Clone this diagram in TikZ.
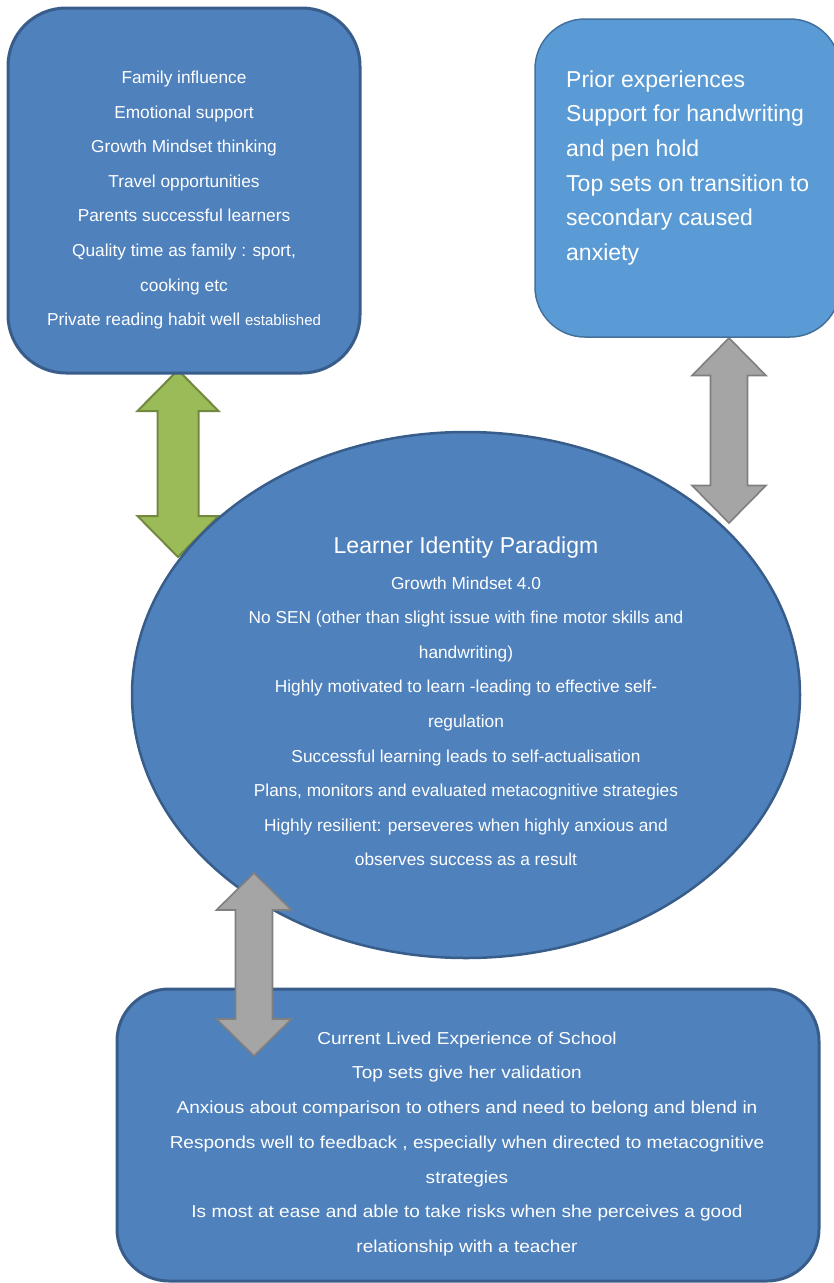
\documentclass[tikz,border=0pt]{standalone}
\usepackage{fontspec}
\setmainfont{Liberation Sans}
\newfontfamily\widesans[FakeStretch=1.1]{Liberation Sans}
\usetikzlibrary{calc,shapes.geometric}

\definecolor{boxblue}{HTML}{4F81BD}
\definecolor{boxedge}{HTML}{385D8A}
\definecolor{lightblue}{HTML}{5B9BD5}
\definecolor{lightedge}{HTML}{41719C}
\definecolor{arrowgreen}{HTML}{9BBB59}
\definecolor{greenedge}{HTML}{71893F}
\definecolor{arrowgrey}{HTML}{A5A5A5}
\definecolor{greyedge}{HTML}{7F7F7F}

% block double arrow between two named tips: style, top tip, bottom tip,
% half shaft width, half head width, head length
\newcommand\blockarrow[6]{%
  \draw[#1] (#2) -- ([shift={(#5,#6)}]#2) -- ([shift={(#4,#6)}]#2)
    -- ([shift={(#4,-#6)}]#3) -- ([shift={(#5,-#6)}]#3) -- (#3)
    -- ([shift={(-#5,-#6)}]#3) -- ([shift={(-#4,-#6)}]#3)
    -- ([shift={(-#4,#6)}]#2) -- ([shift={(-#5,#6)}]#2) -- cycle;}

\tikzset{
  darkbox/.style={rectangle, rounded corners=58pt, fill=boxblue, draw=boxedge,
    line width=3pt, inner sep=0pt},
  lightbox/.style={rectangle, rounded corners=50pt, fill=lightblue, draw=lightedge,
    line width=1.5pt, inner sep=0pt},
  bubble/.style={ellipse, fill=boxblue, draw=boxedge, line width=2.5pt, inner sep=0pt},
  greenarrow/.style={fill=arrowgreen, draw=greenedge, line width=2pt, line join=miter},
  greyarrow/.style={fill=arrowgrey, draw=greyedge, line width=1.6pt, line join=miter},
  bodytext/.style={text=white, inner sep=0pt, font=\fontsize{17.3}{34.6}\selectfont},
}

\begin{document}
\begin{tikzpicture}[x=1pt, y=-1pt]
\useasboundingbox (0,0) rectangle (834,1283);

% tips of the block arrows
\coordinate (famlow) at (178,370);
\coordinate (idleft) at (178,557);
\coordinate (priorlow) at (729,338);
\coordinate (idright) at (729,523);
\coordinate (idlow) at (254,873);
\coordinate (schooltop) at (254,1056);

\blockarrow{greenarrow}{famlow}{idleft}{20.5}{40.5}{41}
\blockarrow{greyarrow}{priorlow}{idright}{18.5}{37}{37.5}

% central learner identity ellipse
\node[bubble, minimum width=668pt, minimum height=526pt] (identity) at (466,695) {};
\node[bodytext, align=center, anchor=north] (identitytext) at (466,536.3)
  {{\fontsize{23}{34.6}\selectfont Learner Identity Paradigm}\\[1.3pt]
   Growth Mindset 4.0\\
   No SEN (other than slight issue with fine motor skills and\\
   handwriting)\\
   Highly motivated to learn -leading to effective self-\\
   regulation\\
   Successful learning leads to self-actualisation\\
   Plans, monitors and evaluated metacognitive strategies\\
   Highly resilient: perseveres when highly anxious and\\
   observes success as a result};

% family box
\node[darkbox, minimum width=352pt, minimum height=365pt] (family) at (184,190.5) {};
\node[bodytext, align=center, anchor=north] (familytext) at (184,70.8)
  {Family influence\\
   Emotional support\\
   Growth Mindset thinking\\
   Travel opportunities\\
   Parents successful learners\\
   Quality time as family : sport,\\
   cooking etc\\
   Private reading habit well {\fontsize{15}{34.6}\selectfont established}};

% prior experiences box (runs slightly past the right edge)
\node[lightbox, minimum width=305pt, minimum height=318pt] (prior) at (687.5,178) {};
\node[text=white, inner sep=0pt, align=left, anchor=north west,
  font=\fontsize{23}{34.6}\selectfont] (priortext) at (566,70.5)
  {Prior experiences\\
   Support for handwriting\\
   and pen hold\\
   Top sets on transition to\\
   secondary caused\\
   anxiety};

% school experience box
\node[darkbox, rounded corners=52pt, minimum width=702pt, minimum height=292pt] (school) at (468,1135) {};
\node[bodytext, align=center, anchor=north, font=\widesans\fontsize{17.3}{34.7}\selectfont]
  (schooltext) at (467,1031.5)
  {Current Lived Experience of School\\
   Top sets give her validation\\
   Anxious about comparison to others and need to belong and blend in\\
   Responds well to feedback , especially when directed to metacognitive\\
   strategies\\
   Is most at ease and able to take risks when she perceives a good\\
   relationship with a teacher};

\blockarrow{greyarrow}{idlow}{schooltop}{18.5}{37.5}{37}
\end{tikzpicture}
\end{document}
